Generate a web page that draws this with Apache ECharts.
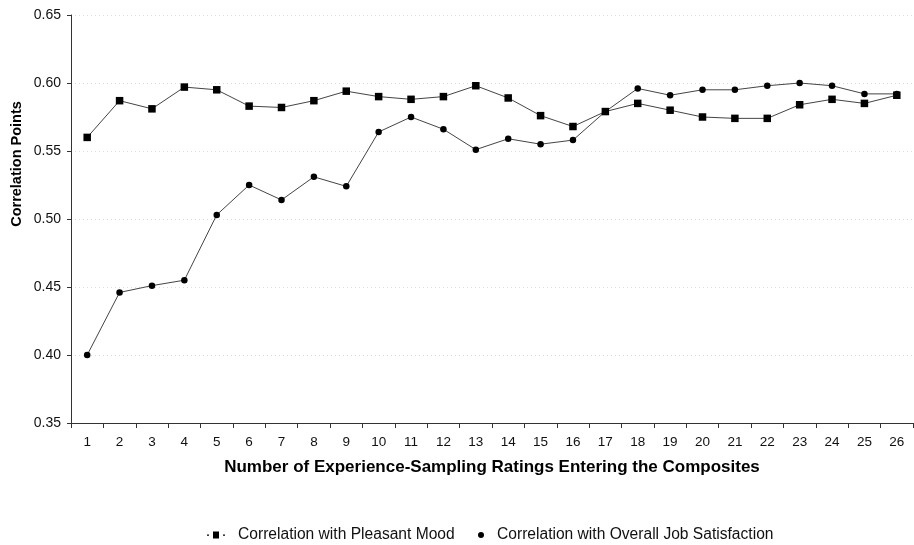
<!DOCTYPE html>
<html>
<head>
<meta charset="utf-8">
<script src="https://cdn.jsdelivr.net/npm/echarts@6/dist/echarts.min.js"></script>
<style>
html,body{margin:0;padding:0;background:#fff;}
#chart{width:914px;height:545px;}
</style>
</head>
<body>
<div id="chart"></div>
<script>
var categories = ['1','2','3','4','5','6','7','8','9','10','11','12','13','14','15','16','17','18','19','20','21','22','23','24','25','26'];
var pleasantMood = [0.560,0.587,0.581,0.597,0.595,0.583,0.582,0.587,0.594,0.590,0.588,0.590,0.598,0.589,0.576,0.568,0.579,0.585,0.580,0.575,0.574,0.574,0.584,0.588,0.585,0.591];
var jobSatisfaction = [0.400,0.446,0.451,0.455,0.503,0.525,0.514,0.531,0.524,0.564,0.575,0.566,0.551,0.559,0.555,0.558,0.579,0.596,0.591,0.595,0.595,0.598,0.600,0.598,0.592,0.592];
var seriesNames = ['Correlation with Pleasant Mood','Correlation with Overall Job Satisfaction'];
var xTitle = 'Number of Experience-Sampling Ratings Entering the Composites';
var yTitle = 'Correlation Points';

var FONT = 'Liberation Sans, Arial, sans-serif';
var chart = echarts.init(document.getElementById('chart'), null, {renderer:'canvas'});
chart.setOption({
  animation:false,
  backgroundColor:'#fff',
  grid:{left:71, right:1, top:15, bottom:122, containLabel:false},
  legend:[
    {data:[{name:seriesNames[0], icon:'path://M0,3h2v1.2h-2z M6,0h6v7h-6z M16,3h2v1.2h-2z'}],
     left:207, top:527, itemWidth:18, itemHeight:7, padding:0,
     textStyle:{fontFamily:FONT, fontSize:15.6, color:'#111', padding:[0,0,0,8]}},
    {data:[{name:seriesNames[1], icon:'circle'}],
     left:478, top:527, itemWidth:22, itemHeight:6, padding:0,
     textStyle:{fontFamily:FONT, fontSize:15.6, color:'#111'}}
  ],
  xAxis:{
    type:'category', data:categories, boundaryGap:true,
    name:xTitle, nameLocation:'middle', nameGap:36,
    nameTextStyle:{fontFamily:FONT, fontSize:17, fontWeight:'bold', color:'#000'},
    axisLine:{lineStyle:{color:'#333', width:1}},
    axisTick:{show:true, length:5, lineStyle:{color:'#333'}},
    axisLabel:{interval:0, margin:12, fontFamily:FONT, fontSize:13.5, color:'#111'}
  },
  yAxis:{
    type:'value', min:0.35, max:0.65, interval:0.05,
    axisLine:{show:true, lineStyle:{color:'#333', width:1}},
    axisTick:{show:true, length:4, lineStyle:{color:'#333'}},
    axisLabel:{margin:10, fontFamily:FONT, fontSize:14, color:'#111',
      formatter:function(v){return v.toFixed(2);}},
    splitLine:{show:true, lineStyle:{color:'#dcdcdc', type:[1,3], width:1}}
  },
  graphic:[{
    type:'text', x:17, y:164, rotation:Math.PI/2,
    style:{text:yTitle, font:'bold 14.5px ' + FONT, fill:'#000', align:'center', verticalAlign:'middle'}
  }],
  series:[
    {name:seriesNames[0], type:'line', data:pleasantMood, symbol:'rect', symbolSize:7.5,
     lineStyle:{color:'#444', width:1}, itemStyle:{color:'#000'}},
    {name:seriesNames[1], type:'line', data:jobSatisfaction, symbol:'circle', symbolSize:6.5,
     lineStyle:{color:'#444', width:1}, itemStyle:{color:'#000'}}
  ]
});
</script>
</body>
</html>
